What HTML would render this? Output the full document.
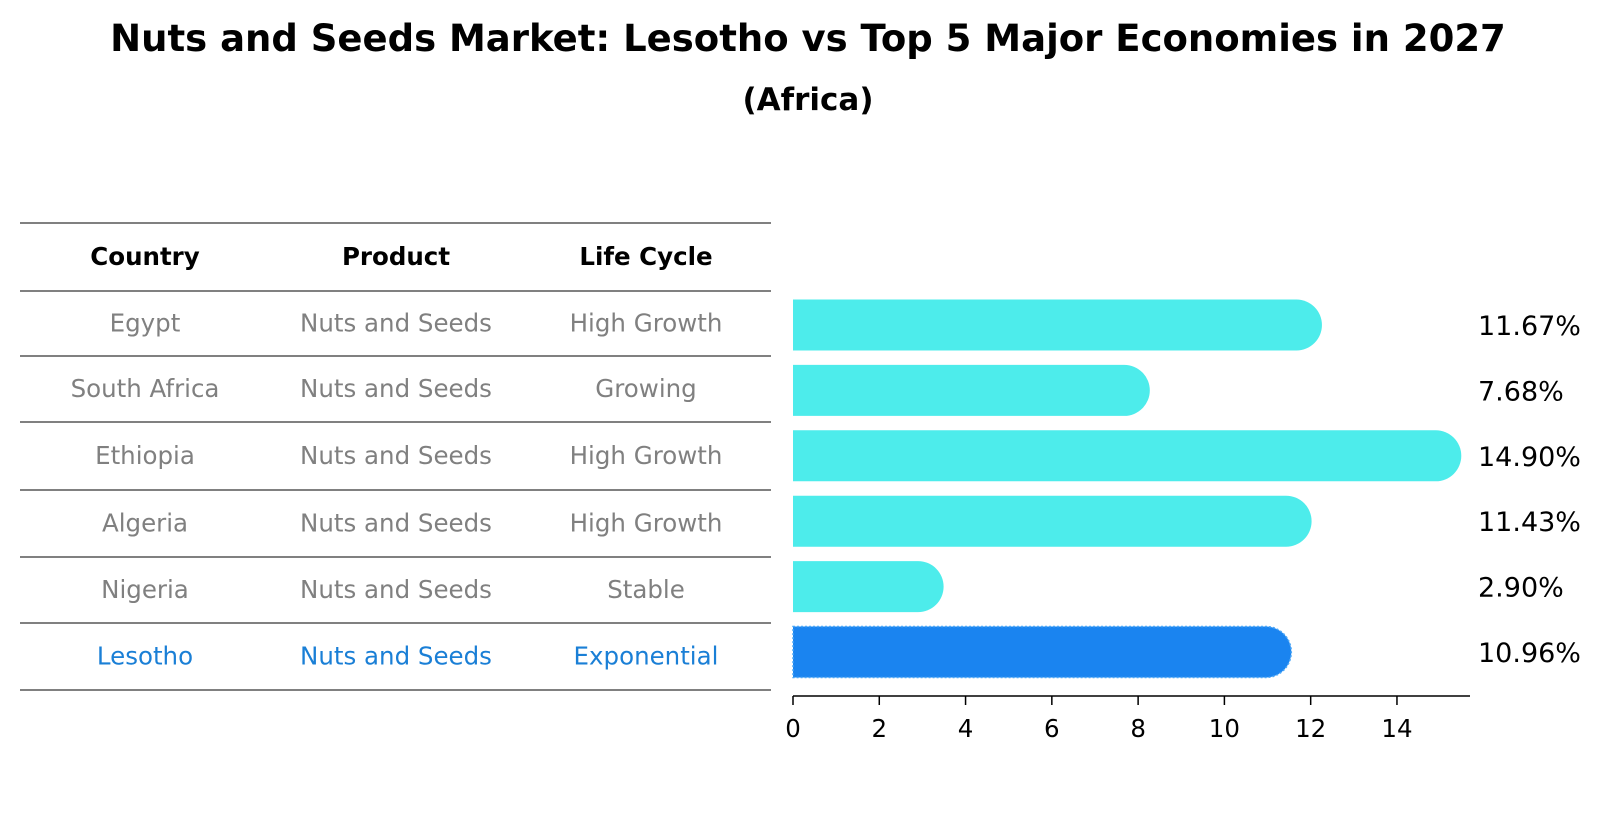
<!DOCTYPE html>
<html><head><meta charset="utf-8"><style>
body{margin:0;background:#fff;font-family:"Liberation Sans","DejaVu Sans",sans-serif}
</style></head><body>
<svg width="1604" height="823" xmlns="http://www.w3.org/2000/svg" font-family="DejaVu Sans, Liberation Sans, sans-serif">
<text x="808" y="51" text-anchor="middle" font-size="37" font-weight="bold">Nuts and Seeds Market: Lesotho vs Top 5 Major Economies in 2027</text>
<text x="808" y="110" text-anchor="middle" font-size="31" font-weight="bold">(Africa)</text>
<g id="table"></g>
<g id="bars"></g>
<g id="axis"></g>
</svg>
<script>
const countries=["Egypt","South Africa","Ethiopia","Algeria","Nigeria","Lesotho"];
const products=["Nuts and Seeds","Nuts and Seeds","Nuts and Seeds","Nuts and Seeds","Nuts and Seeds","Nuts and Seeds"];
const lifecycles=["High Growth","Growing","High Growth","High Growth","Stable","Exponential"];
const values=[11.67,7.68,14.90,11.43,2.90,10.96];
const ticks=[0,2,4,6,8,10,12,14];
const NS="http://www.w3.org/2000/svg";
function mk(t,a,p){const e=document.createElementNS(NS,t);for(const k in a)e.setAttribute(k,a[k]);p.appendChild(e);return e;}
const x=v=>793+v*43.14;
const rowY=i=>325+i*65.4;
const tbl=document.getElementById('table');
const lines=[223,291,356,422,490,557,623,690];
lines.forEach(y=>{const l=mk('line',{x1:20,x2:771,y1:y,y2:y,stroke:'#000','stroke-width':1},tbl);

});
const cx=[145,396,646];
["Country","Product","Life Cycle"].forEach((h,j)=>{const t=mk('text',{x:cx[j],y:(lines[0]+lines[1])/2+8,'text-anchor':'middle','font-size':24.5,'font-weight':'bold'},tbl);t.textContent=h;

});
countries.forEach((c,i)=>{const last=i===countries.length-1;const col=last?'#1a7fd6':'#808080';
const cy=(lines[i+1]+lines[i+2])/2+8;
[c,products[i],lifecycles[i]].forEach((v,j)=>{const t=mk('text',{x:cx[j],y:cy,'text-anchor':'middle','font-size':24.5,fill:col},tbl);t.textContent=v;

});});
const bars=document.getElementById('bars');
values.forEach((v,i)=>{const last=i===values.length-1;const h=51,y=rowY(i)-h/2,w=x(v)-x(0),r=25.5;
const p=mk('path',{d:`M${x(0)},${y} h${w} a${r},${r} 0 0 1 0,${h} h${-w} z`,fill:last?'#1a84f0':'#4deceb'},bars);
if(last){p.setAttribute('stroke','#4da8f7');p.setAttribute('stroke-dasharray','2,2');p.setAttribute('stroke-width','1.5');}


const t=mk('text',{x:1478,y:rowY(i)+10,'font-size':27},bars);t.textContent=v.toFixed(2)+'%';

});
const ax=document.getElementById('axis');
mk('line',{x1:793,x2:1470,y1:696,y2:696,stroke:'#000','stroke-width':1.5},ax);
ticks.forEach(t=>{mk('line',{x1:x(t),x2:x(t),y1:696,y2:705,stroke:'#000','stroke-width':1.5},ax);
const l=mk('text',{x:x(t),y:737,'text-anchor':'middle','font-size':24.5},ax);l.textContent=t;

});
</script>
</body></html>
